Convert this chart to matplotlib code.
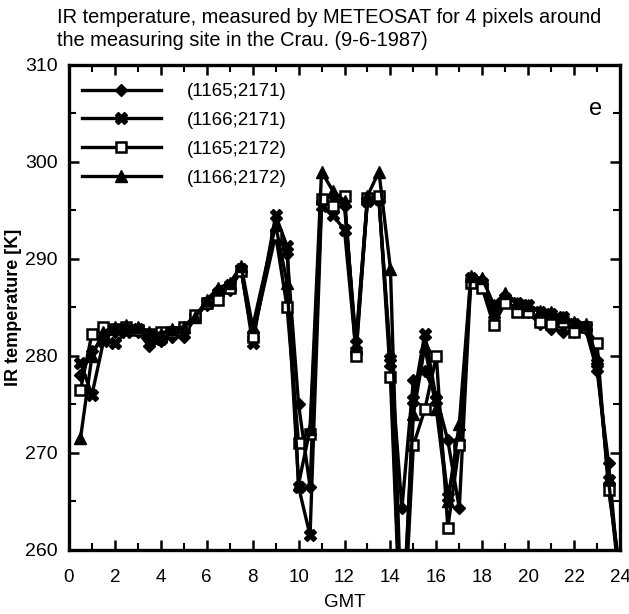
import matplotlib
matplotlib.use("Agg")
import matplotlib.pyplot as plt
from matplotlib.ticker import MultipleLocator
import numpy as np

plt.rcParams['font.family'] = ['Liberation Sans', 'DejaVu Sans']

# ---- data -------------------------------------------------------------
gmt = [0.5, 1.0, 1.5, 2.0, 2.5, 3.0, 3.5, 4.0, 4.5, 5.0, 5.5, 6.0, 6.5, 7.0,
       7.5, 8.0, 9.0, 9.5, 10.0, 10.5, 11.0, 11.5, 12.0, 12.5, 13.0, 13.5,
       14.0, 14.5, 15.0, 15.5, 16.0, 16.5, 17.0, 17.5, 18.0, 18.5, 19.0,
       19.5, 20.0, 20.5, 21.0, 21.5, 22.0, 22.5, 23.0, 23.5, 24.0]

px_1165_2171 = [278.0, 280.5, 281.8, 282.5, 282.8, 282.5, 281.0, 281.5, 282.0,
                282.0, 284.0, 285.3, 286.8, 286.8, 288.8, 282.0, 293.0, 290.5,
                275.0, 266.5, 296.0, 296.5, 295.5, 281.5, 296.2, 296.0, 280.0,
                264.3, 277.5, 278.5, 275.8, 271.3, 264.3, 287.8, 287.8, 284.0,
                285.8, 284.8, 284.5, 283.3, 282.8, 282.5, 282.5, 282.8, 278.5,
                269.0, 256.0]
px_1166_2171 = [279.3, 276.0, 281.5, 281.3, 282.5, 282.8, 282.0, 281.8, 282.5,
                282.8, 284.0, 285.5, 286.5, 287.3, 289.0, 281.3, 294.5, 291.3,
                266.5, 261.5, 295.5, 294.5, 293.0, 280.5, 296.0, 296.2, 279.3,
                249.0, 275.5, 282.3, 275.5, 265.5, 271.0, 288.0, 287.5, 285.0,
                286.0, 285.5, 285.3, 284.5, 284.3, 284.0, 283.3, 283.0, 279.3,
                267.2, 257.0]
px_1165_2172 = [276.5, 282.3, 283.0, 282.8, 283.0, 282.7, 282.3, 282.5, 282.5,
                283.0, 284.2, 285.5, 285.8, 287.0, 288.8, 282.0, 292.5, 285.0,
                271.0, 272.0, 296.2, 295.5, 296.5, 280.0, 296.3, 296.5, 277.8,
                248.0, 270.8, 274.5, 280.0, 262.3, 270.8, 287.5, 287.0, 283.2,
                285.5, 284.5, 284.5, 283.5, 283.3, 283.5, 282.5, 283.0, 281.3,
                266.2, 258.0]
px_1166_2172 = [271.5, 280.0, 282.5, 283.0, 283.2, 283.0, 282.5, 282.3, 282.8,
                283.0, 284.0, 285.8, 287.0, 287.5, 289.3, 283.0, 293.5, 287.5,
                266.8, 272.5, 299.0, 297.0, 296.0, 281.0, 296.5, 299.0, 289.0,
                251.0, 274.0, 281.0, 274.5, 265.0, 273.0, 288.2, 288.0, 285.3,
                286.5, 285.5, 285.3, 284.6, 284.5, 284.0, 283.5, 283.3, 279.8,
                267.3, 256.0]

labels = ["(1165;2171)", "(1166;2171)", "(1165;2172)", "(1166;2172)"]
series = [px_1165_2171, px_1166_2171, px_1165_2172, px_1166_2172]
x_ticks = list(range(0, 25, 2))
y_ticks = [260, 270, 280, 290, 300, 310]

# ---- styles -----------------------------------------------------------
styles = [
    dict(marker='D', markersize=6, markerfacecolor='black', markeredgecolor='black'),
    dict(marker='X', markersize=8, markerfacecolor='black', markeredgecolor='black'),
    dict(marker='s', markersize=7, markerfacecolor='white', markeredgecolor='black',
         markeredgewidth=1.8),
    dict(marker='^', markersize=8, markerfacecolor='black', markeredgecolor='black'),
]

fig = plt.figure(figsize=(6.29, 6.14), dpi=100)
ax = fig.add_axes([69/629, 1-550/614, (620-69)/629, (550-65)/614])

for vals, st, lab in zip(series, styles, labels):
    ax.plot(gmt, vals, color='black', linewidth=2.4, label=lab, clip_on=True, **st)

ax.set_xlim(0, 24)
ax.set_ylim(260, 310)
ax.set_xticks(x_ticks)
ax.set_yticks(y_ticks)
ax.xaxis.set_minor_locator(MultipleLocator(1))
ax.yaxis.set_minor_locator(MultipleLocator(5))
ax.tick_params(which='major', direction='in', length=7, width=1.8,
               top=True, right=True, labelsize=14)
ax.tick_params(axis='x', which='major', pad=14, labelsize=13.5)
ax.tick_params(axis='y', which='major', pad=8)
ax.tick_params(which='minor', direction='in', length=5, width=1.5,
               top=True, right=True)
for s in ax.spines.values():
    s.set_linewidth(2.4)

ax.set_xlabel("GMT", fontsize=13.5, va='center')
ax.xaxis.set_label_coords(0.5, -0.109)
ax.set_ylabel("IR temperature [K]", fontsize=13, fontweight='bold')
ax.yaxis.set_label_coords(-0.085, 0.5)

fig.text(57/629, 1-29/614,
         "IR temperature, measured by METEOSAT for 4 pixels around\n"
         "the measuring site in the Crau. (9-6-1987)",
         fontsize=14.4, ha='left', va='center', linespacing=1.25)

ax.text(0.955, 0.91, "e", transform=ax.transAxes, fontsize=17,
        ha='center', va='center')

leg = ax.legend(loc='upper left', bbox_to_anchor=(0.01, 0.978), frameon=False,
                fontsize=13.5, handlelength=4.2, handletextpad=1.4,
                labelspacing=0.62, numpoints=1, borderaxespad=0)

fig.savefig("out.png", dpi=100)
